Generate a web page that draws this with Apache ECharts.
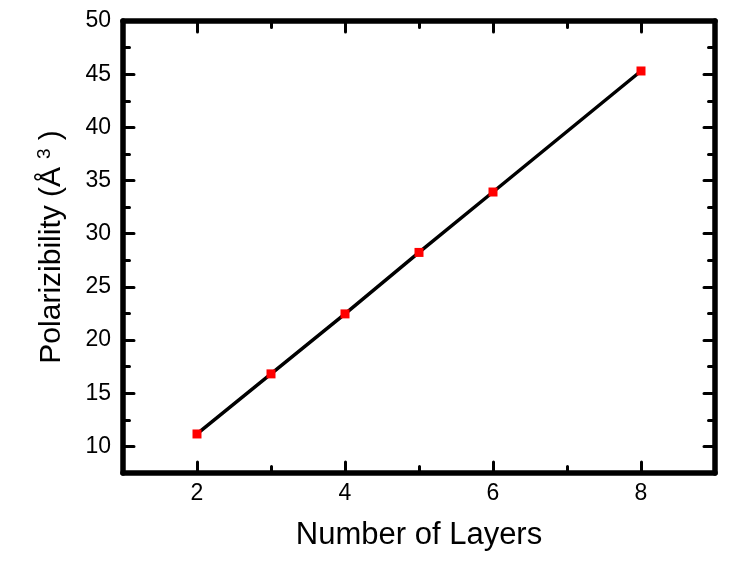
<!DOCTYPE html>
<html>
<head>
<meta charset="utf-8">
<script src="https://cdn.jsdelivr.net/npm/echarts@6/dist/echarts.min.js"></script>
<style>
  html, body { margin: 0; padding: 0; background: #fff; }
  #main { width: 756px; height: 567px; }
</style>
</head>
<body>
<div id="main"></div>
<script>
// data
var layers = [2, 3, 4, 5, 6, 8];
var polarizability = [11.17, 16.82, 22.46, 28.24, 33.92, 45.3];

var xMajor = [2, 4, 6, 8];
var xMinor = [3, 5, 7];
var yMajor = [10, 15, 20, 25, 30, 35, 40, 45, 50];
var yMinor = [12.5, 17.5, 22.5, 27.5, 32.5, 37.5, 42.5, 47.5];

var font = 'Liberation Sans, Arial, sans-serif';

// one visible axis + a bare axis just for the short ticks
function xAx(pos, ticks, len, main) {
    return {
        type: 'value', position: pos, min: 1, max: 9,
        axisLine: { show: main, lineStyle: { color: '#000', width: 5.5, cap: 'round' } },
        axisTick: { show: true, inside: true, length: len, customValues: ticks,
            lineStyle: { color: '#000', width: 3, cap: 'round' } },
        axisLabel: { show: main && pos == 'bottom', customValues: xMajor, margin: 9,
            color: '#000', fontSize: 23, fontFamily: font },
        splitLine: { show: false }
    };
}
function yAx(pos, ticks, len, main) {
    return {
        type: 'value', position: pos, min: 7.5, max: 50,
        axisLine: { show: main, lineStyle: { color: '#000', width: 5.5, cap: 'round' } },
        axisTick: { show: true, inside: true, length: len, customValues: ticks,
            lineStyle: { color: '#000', width: 3, cap: 'round' } },
        axisLabel: { show: main && pos == 'left', customValues: yMajor, margin: 12,
            color: '#000', fontSize: 23, fontFamily: font },
        splitLine: { show: false }
    };
}

var xAxes = [
    xAx('bottom', xMajor, 11, true),
    xAx('bottom', xMinor, 6.5, false),
    xAx('top', xMajor, 11, true),
    xAx('top', xMinor, 6.5, false)
];
xAxes[0].name = 'Number of Layers';
xAxes[0].nameLocation = 'middle';
xAxes[0].nameGap = 47;
xAxes[0].nameTextStyle = { color: '#000', fontSize: 31, fontFamily: font };

var yAxes = [
    yAx('left', yMajor, 11, true),
    yAx('left', yMinor, 6.5, false),
    yAx('right', yMajor, 11, true),
    yAx('right', yMinor, 6.5, false)
];
yAxes[0].name = '{a|Polarizibility (Å}{s|3}{a|)}';
yAxes[0].nameLocation = 'middle';
yAxes[0].nameGap = 55;
yAxes[0].nameTextStyle = {
    color: '#000', fontSize: 30, fontFamily: font,
    rich: {
        a: { fontSize: 30, fontFamily: font, color: '#000' },
        s: { fontSize: 19, fontFamily: font, color: '#000', padding: [0, 8, 14, 8] }
    }
};

var chart = echarts.init(document.getElementById('main'));
chart.setOption({
    animation: false,
    backgroundColor: '#fff',
    grid: { left: 123, right: 41, top: 21, bottom: 94 },
    xAxis: xAxes,
    yAxis: yAxes,
    series: [{
        type: 'line',
        data: layers.map(function(x, i){ return [x, polarizability[i]]; }),
        symbol: 'rect',
        symbolSize: 9,
        itemStyle: { color: '#ff0000' },
        lineStyle: { color: '#000', width: 3.5 },
        z: 3
    }]
});
</script>
</body>
</html>
